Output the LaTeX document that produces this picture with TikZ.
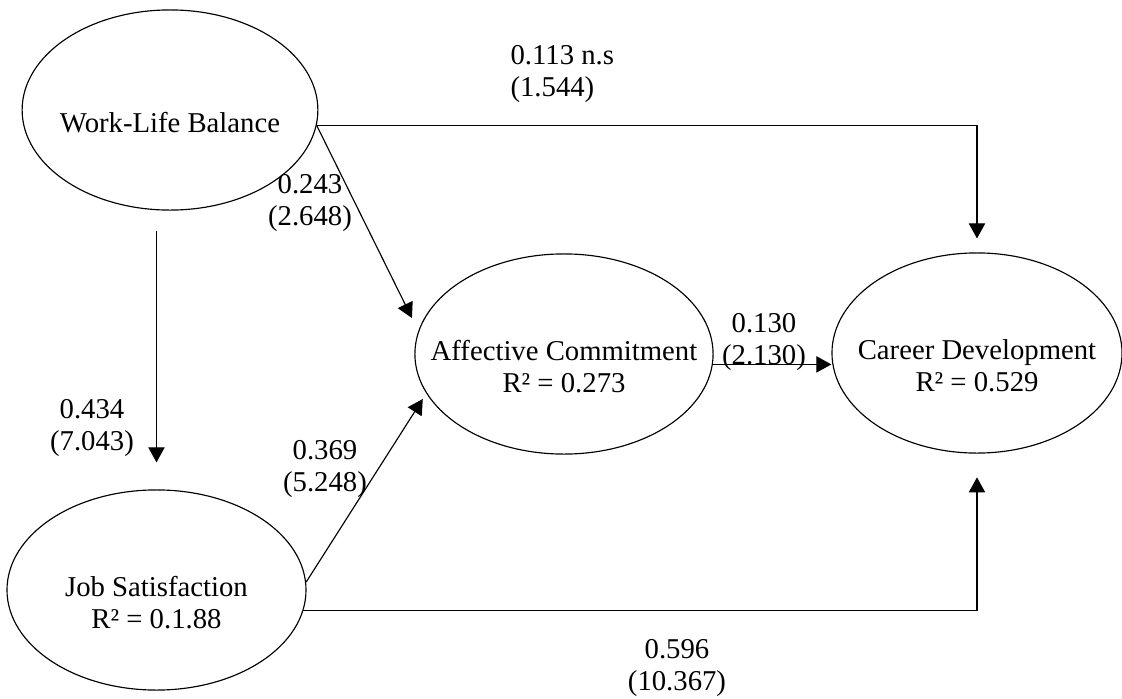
\documentclass[tikz,border=0pt]{standalone}
\usepackage{fontspec}
\setmainfont{Liberation Serif}
\usetikzlibrary{shapes.geometric,arrows.meta}
\newcommand{\txtdrop}{\rule{0pt}{16pt}}
\newcommand{\ctext}[1]{\makebox[0pt]{#1}}
\tikzset{
  construct/.style={ellipse, draw, inner sep=0pt, align=center, minimum height=24.5mm,
    font=\fontsize{10}{11.2}\selectfont},
  link/.style={-{Triangle[length=1.85mm,width=2mm]}},
  coef/.style={align=center, inner sep=0pt, font=\fontsize{10}{11}\selectfont}
}
\begin{document}
\begin{tikzpicture}[x=0.1224mm,y=-0.1224mm]
    \useasboundingbox (0,0) rectangle (1122,699);
    \node[construct, minimum width=36.2mm] (wlb) at (170,110) {\txtdrop\ctext{Work-Life Balance}};
    \node[construct, minimum width=36.6mm] (js) at (156.5,590) {\txtdrop\ctext{Job Satisfaction}\\\ctext{R² = 0.1.88}};
    \node[construct, minimum width=36.5mm] (ac) at (564,354) {\txtdrop\ctext{Affective Commitment}\\\ctext{R² = 0.273}};
    \node[construct, minimum width=35.5mm] (cd) at (977,353) {\txtdrop\ctext{Career Development}\\\ctext{R² = 0.529}};
    \draw[link, shorten >=1.7mm] (wlb.-6) -| (cd.north);
    \draw[link, shorten >=1.76mm] (wlb.-6) -- (ac.171);
    \draw[link, shorten <=2.45mm, shorten >=3.3mm] (wlb.south -| js.north) -- (js.north);
    \draw[link, shorten >=0.8mm] (js.3) -- (ac.196);
    \draw[link] (ac.-4) -- (ac.-4 -| cd.west);
    \draw[link, shorten >=2.9mm] (js.-8) -| (cd.south);
    \node[coef, align=left, anchor=west] (c1) at (510,74) {0.113 n.s\\(1.544)};
    \node[coef] (c2) at (310,203) {0.243\\(2.648)};
    \node[coef] (c3) at (92,428) {0.434\\(7.043)};
    \node[coef] (c4) at (325,469) {0.369\\(5.248)};
    \node[coef] (c5) at (764,342) {0.130\\(2.130)};
    \node[coef] (c6) at (677,668) {0.596\\(10.367)};
\end{tikzpicture}
\end{document}
